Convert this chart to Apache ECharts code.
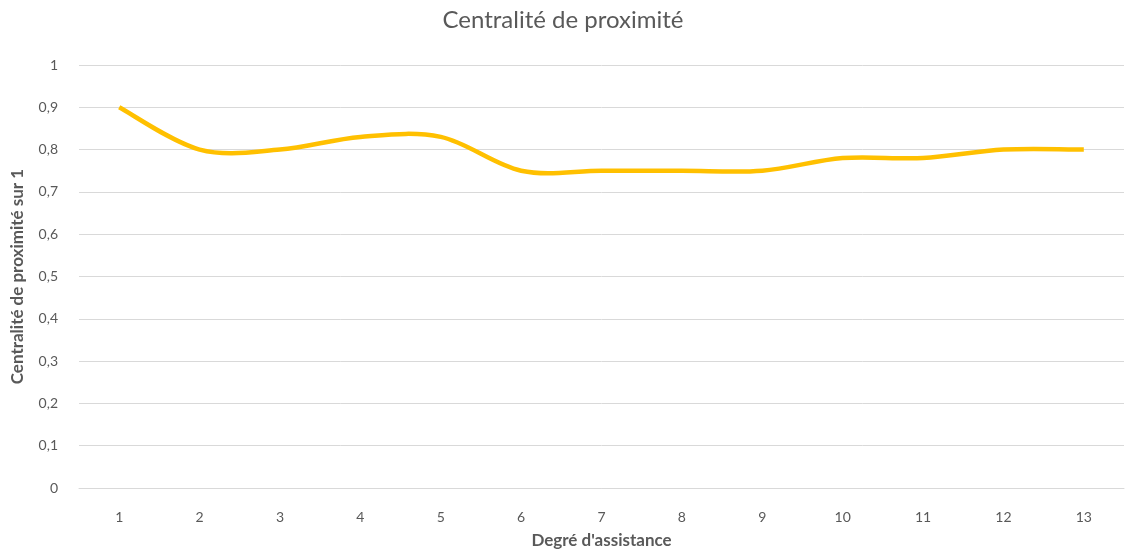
<!DOCTYPE html>
<html>
<head>
<meta charset="utf-8">
<script src="https://cdn.jsdelivr.net/npm/echarts@6/dist/echarts.min.js"></script>
<style>
  html, body { margin: 0; padding: 0; background: #fff; }
  #chart { width: 1126px; height: 550px; }
</style>
</head>
<body>
<div id="chart"></div>
<script>
// Degré d'assistance (x) vs centralité de proximité (y)
const categories = ['1', '2', '3', '4', '5', '6', '7', '8', '9', '10', '11', '12', '13'];
const closeness = [0.90, 0.80, 0.80, 0.83, 0.83, 0.75, 0.75, 0.75, 0.75, 0.78, 0.78, 0.80, 0.80];

const fontFamily = 'Lato, "Open Sans", sans-serif';
const textColor = '#595959';
const lineColor = '#FFC000';

// Smoothed curve through the points (Catmull-Rom converted to cubic Béziers),
// positioned with the chart's own axes via api.coord.
function renderCurve(params, api) {
  if (params.dataIndex !== 0) return null;
  const pts = closeness.map(function (v, i) { return api.coord([i, v]); });
  const n = pts.length;
  let d = 'M' + pts[0][0] + ' ' + pts[0][1];
  for (let i = 0; i < n - 1; i++) {
    const p0 = pts[Math.max(i - 1, 0)];
    const p1 = pts[i];
    const p2 = pts[i + 1];
    const p3 = pts[Math.min(i + 2, n - 1)];
    const c1x = p1[0] + (p2[0] - p0[0]) / 6;
    const c1y = p1[1] + (p2[1] - p0[1]) / 6;
    const c2x = p2[0] - (p3[0] - p1[0]) / 6;
    const c2y = p2[1] - (p3[1] - p1[1]) / 6;
    d += ' C' + c1x + ' ' + c1y + ' ' + c2x + ' ' + c2y + ' ' + p2[0] + ' ' + p2[1];
  }
  return {
    type: 'path',
    shape: { pathData: d },
    style: { stroke: lineColor, lineWidth: 4.5, fill: null, lineCap: 'butt', lineJoin: 'round' }
  };
}

const chart = echarts.init(document.getElementById('chart'));

chart.setOption({
  animation: false,
  textStyle: { fontFamily: fontFamily },
  title: {
    text: 'Centralité de proximité',
    left: 'center',
    top: 3,
    textStyle: { fontSize: 24, fontWeight: 'normal', color: textColor, fontFamily: fontFamily }
  },
  grid: { left: 79, right: 2, top: 65, bottom: 62, outerBoundsMode: 'none', containLabel: false },
  xAxis: {
    type: 'category',
    data: categories,
    boundaryGap: true,
    name: "Degré d'assistance",
    nameLocation: 'middle',
    nameGap: 44,
    nameTextStyle: { fontSize: 17, fontWeight: 'bold', color: textColor },
    axisLine: { lineStyle: { color: '#d9d9d9' } },
    axisTick: { alignWithLabel: true, length: 5, lineStyle: { color: '#d9d9d9' } },
    axisLabel: { fontSize: 14, color: textColor, margin: 22 }
  },
  yAxis: {
    type: 'value',
    min: 0,
    max: 1,
    interval: 0.1,
    name: 'Centralité de proximité sur 1',
    nameLocation: 'middle',
    nameGap: 53,
    nameTextStyle: { fontSize: 17, fontWeight: 'bold', color: textColor },
    axisLine: { show: false },
    axisTick: { show: false },
    splitLine: { lineStyle: { color: '#d9d9d9' } },
    axisLabel: {
      fontSize: 14,
      color: textColor,
      margin: 21,
      formatter: function (v) { return String(Math.round(v * 10) / 10).replace('.', ','); }
    }
  },
  series: [{
    type: 'custom',
    renderItem: renderCurve,
    data: closeness.map(function (v, i) { return [i, v]; }),
    encode: { x: 0, y: 1 },
    clip: false
  }]
});
</script>
</body>
</html>
